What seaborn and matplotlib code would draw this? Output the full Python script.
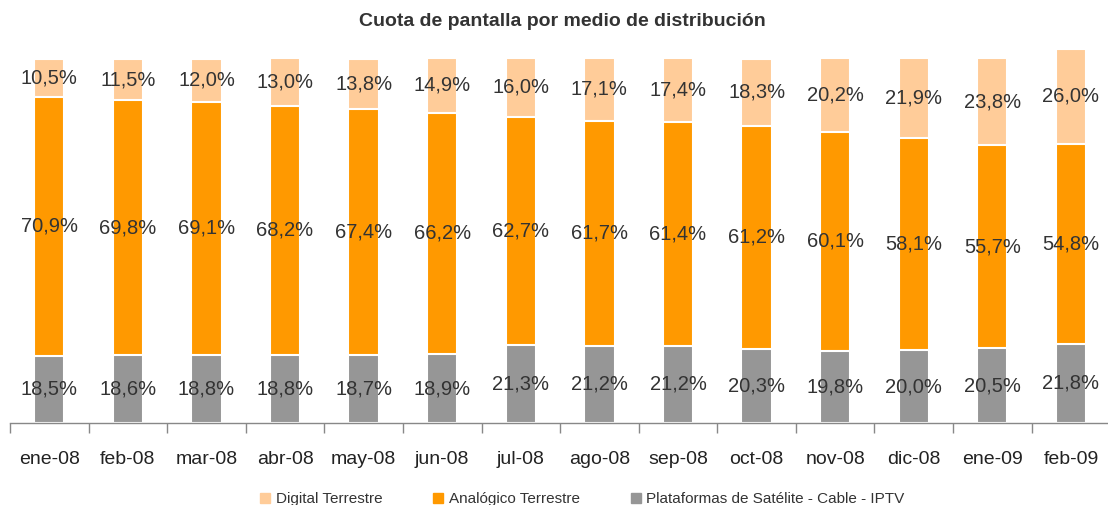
import numpy as np
import pandas as pd
import seaborn as sns
import matplotlib.pyplot as plt
from matplotlib.lines import Line2D

# Data (% share of screen by distribution medium)
meses = ["ene-08", "feb-08", "mar-08", "abr-08", "may-08", "jun-08", "jul-08",
         "ago-08", "sep-08", "oct-08", "nov-08", "dic-08", "ene-09", "feb-09"]
digital = [10.5, 11.5, 12.0, 13.0, 13.8, 14.9, 16.0, 17.1, 17.4, 18.3, 20.2, 21.9, 23.8, 26.0]
analogico = [70.9, 69.8, 69.1, 68.2, 67.4, 66.2, 62.7, 61.7, 61.4, 61.2, 60.1, 58.1, 55.7, 54.8]
plataformas = [18.5, 18.6, 18.8, 18.8, 18.7, 18.9, 21.3, 21.2, 21.2, 20.3, 19.8, 20.0, 20.5, 21.8]

series = ["Digital Terrestre", "Analógico Terrestre", "Plataformas de Satélite - Cable - IPTV"]
colores = ["#FFCC99", "#FF9900", "#969696"]

df = pd.DataFrame({"mes": meses, "digital": digital,
                   "analogico": analogico, "plataformas": plataformas})
df["base"] = df["plataformas"]
df["medio"] = df["plataformas"] + df["analogico"]
df["total"] = df["medio"] + df["digital"]

sns.set_style("white")
plt.rcParams["font.family"] = ["Liberation Sans", "DejaVu Sans"]

fig = plt.figure(figsize=(11.08, 5.05), dpi=100)
ax = fig.add_axes([0.009, 0.162, 0.993, 0.759])

# stacked bars: draw cumulative totals from the top layer down
for col, c in zip(["total", "medio", "base"], colores):
    sns.barplot(data=df, x="mes", y=col, color=c, saturation=1, width=0.385,
                edgecolor="white", linewidth=1.5, ax=ax)

# value labels centred in each segment
txt = "#333333"
for i in range(len(meses)):
    for lo, val in [(0, plataformas[i]),
                    (plataformas[i], analogico[i]),
                    (plataformas[i] + analogico[i], digital[i])]:
        ax.text(i, lo + val / 2, f"{val:.1f}%".replace(".", ","),
                ha="center", va="center", fontsize=14.5, color=txt)

ax.set_xlim(-0.5, len(meses) - 0.5)
ax.set_ylim(0, 105)
ax.set_xlabel("")
ax.set_ylabel("")
ax.set_yticks([])
for s in ["left", "right", "top"]:
    ax.spines[s].set_visible(False)
ax.spines["bottom"].set_color("#888888")
ax.spines["bottom"].set_linewidth(1)

ax.set_xticks(np.arange(-0.5, len(meses), 1), minor=True)
ax.tick_params(axis="x", which="minor", bottom=True, length=7, width=1,
               color="#888888", direction="out")
ax.tick_params(axis="x", which="major", length=0, pad=20, labelsize=14, labelcolor="#222222")

fig.text(0.508, 0.958, "Cuota de pantalla por medio de distribución",
         ha="center", va="center", fontsize=14, fontweight="bold", color="#333333")

handles = [Line2D([], [], marker="s", linestyle="none", markersize=7,
                  markerfacecolor=c, markeredgecolor=c) for c in colores]
fig.legend(handles, series, loc="lower center", bbox_to_anchor=(0.525, -0.03),
           ncol=3, frameon=False, fontsize=11, columnspacing=3.25,
           handletextpad=0.3, handlelength=0.8, labelcolor="#333333")

fig.savefig("out.png", dpi=100)
